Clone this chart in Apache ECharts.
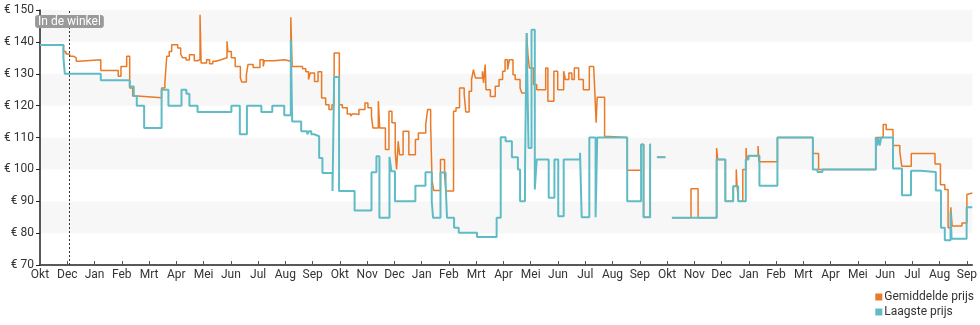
<!DOCTYPE html>
<html>
<head>
<meta charset="utf-8">
<script src="https://cdn.jsdelivr.net/npm/echarts@6/dist/echarts.min.js"></script>
<style>
  html, body { margin: 0; padding: 0; background: #ffffff; }
  #chart { width: 980px; height: 325px; }
</style>
</head>
<body>
<div id="chart"></div>
<script>
// Month tick labels (one per month boundary, starting at the left edge)
const monthLabels = ['Okt','Dec','Jan','Feb','Mrt','Apr','Mei','Jun','Jul','Aug','Sep',
  'Okt','Nov','Dec','Jan','Feb','Mrt','Apr','Mei','Jun','Jul','Aug','Sep',
  'Okt','Nov','Dec','Jan','Feb','Mrt','Apr','Mei','Jun','Jul','Aug','Sep'];

// Price axis ticks
const priceTicks = [70, 80, 90, 100, 110, 120, 130, 140, 150];

// Moment the product became available in shops (months since start)
const inStoreMonth = 1.08;

// Average price: [months since start, price in euro]; each point starts a new price level
const averagePrice = [
  [0,139],[0.86,137],[0.95,136.2],[1.09,135.5],[1.23,135],[1.33,133.9],[1.42,134.4],
  [2.23,131],[2.87,129.2],[2.97,132.3],[3.18,135.5],[3.29,125.5],[3.40,123],[3.58,122.5],
  [4.46,125.5],[4.58,127.1],[4.65,135.5],[4.74,137],[4.83,139.1],[5.05,138.1],[5.16,136.2],
  [5.23,135],[5.36,134.3],[5.48,136],[5.66,134.1],[5.78,134.4],[5.87,148.5],[5.91,133.4],
  [6.11,134.4],[6.22,133.1],[6.34,133.9],[6.45,134.4],[6.64,135],[6.86,140.2],[6.89,137],
  [7.02,135],[7.16,132.3],[7.35,128.7],[7.40,127.4],[7.57,129.7],[7.63,132.9],[7.82,132],
  [8.07,134.4],[8.19,132.3],[8.23,134.1],[8.59,134.4],[8.96,133.9],[9.20,147.7],[9.25,132.3],
  [9.63,131.6],[9.75,130.6],[9.85,128.2],[9.91,130.2],[10.07,127.6],[10.20,130.6],[10.33,122.4],
  [10.48,120.3],[10.60,118.8],[10.71,120.3],[10.79,136.5],[10.98,120.3],[11.09,119.3],[11.27,117.4],
  [11.40,116.7],[11.46,117.4],[11.58,117.2],[11.70,118.8],[11.92,120.8],[12.03,119.3],[12.16,116.7],
  [12.21,113],[12.41,121.4],[12.46,113],[12.67,106.2],[12.80,118.2],[12.91,114.6],[13.03,105.2],
  [13.08,100],[13.14,108.8],[13.19,104.6],[13.32,112],[13.53,104.6],[13.77,109.4],[13.88,111.4],
  [14.15,114.1],[14.22,118.8],[14.33,114.1],[14.38,96.8],[14.44,93.4],[14.69,103.1],[14.84,98.4],
  [14.89,93.2],[15.17,118.2],[15.26,119.3],[15.39,125.5],[15.56,123.5],[15.62,118],[15.74,124.5],
  [15.83,128.2],[15.90,131.3],[15.97,128.7],[16.23,130.8],[16.27,127.1],[16.33,132.9],[16.36,125],
  [16.52,122.9],[16.70,126.1],[16.84,128.2],[16.97,130.8],[17.06,134.4],[17.15,131.3],[17.22,134.4],
  [17.35,129.7],[17.43,128.2],[17.61,125.5],[17.67,124],[17.85,142.8],[17.90,136],[17.95,131.8],
  [18.10,126.6],[18.22,125],[18.55,131.8],[18.63,121.4],[18.85,130.8],[18.99,125],[19.21,130.8],
  [19.27,128.2],[19.40,130.2],[19.51,128.2],[19.60,131.8],[19.76,128.2],[19.93,125],[20.15,132.3],
  [20.31,131.8],[20.35,124.7],[20.40,114.6],[20.44,122.6],[20.71,110.4],[20.74,110],[21.54,99.7],
  [22.05,107.8],[22.14,85],[22.38,107.8],[22.41,null],
  [22.63,103.8],[22.94,103.8],[22.95,null],
  [23.18,84.8],[23.88,93.9],[24.14,84.8],[24.82,106.7],[24.86,103.1],[25.14,90],[25.43,94.7],
  [25.54,100],[25.57,94.7],[25.62,90],[25.78,100],[25.90,106.7],[25.92,103.1],[25.99,104.3],
  [26.34,107.3],[26.37,102.4],[27.05,110],[28.35,105],[28.56,100],[30.66,110],[30.93,114.1],
  [31.04,112.5],[31.29,107.5],[31.54,105.5],[31.61,101],[31.96,105],[32.83,101.7],[33.03,95.2],
  [33.19,93.7],[33.31,81.7],[33.41,88.1],[33.46,82.2],[33.82,83.2],[34.00,92.1],[34.04,92.6],
  [34.2,92.6]
];

// Lowest price: [months since start, price in euro]
const lowestPrice = [
  [0,139],[0.86,135],[0.91,130],[2.23,128],[3.29,126],[3.44,123],[3.55,120],[3.82,113],
  [4.46,125],[4.71,120],[5.19,125],[5.37,123.7],[5.48,120],[5.78,118],[7.02,120],[7.33,111],
  [7.59,120],[8.12,118],[8.52,120],[8.96,117],[9.20,140.7],[9.25,115],[9.58,112],[9.80,111],
  [9.87,112],[9.95,111],[10.05,110.4],[10.24,103.6],[10.36,98.9],[10.73,93.2],[10.79,129],
  [10.97,93.2],[11.54,87.1],[12.16,99.1],[12.34,104.1],[12.45,84.8],[12.82,103.9],[12.89,99.4],
  [13.02,90],[13.77,94.9],[14.14,99.1],[14.37,90],[14.42,84.8],[14.69,99],[14.88,95.2],
  [14.93,84.8],[15.19,81.7],[15.36,80.1],[16.03,78.8],[16.75,84.8],[16.90,110.1],[17.08,108.8],
  [17.31,103.8],[17.53,100],[17.61,90],[17.79,99.4],[17.85,142.8],[17.92,106.7],[18.03,143.8],
  [18.15,93.7],[18.22,103.1],[18.66,91.1],[18.87,103.1],[19.01,85.3],[19.21,103.1],[19.81,105.2],
  [19.87,85],[20.15,110],[20.38,85],[20.44,110],[21.54,90],[22.05,107.8],[22.14,85],[22.38,107.8],
  [22.41,null],
  [22.63,103.8],[22.94,103.8],[22.95,null],
  [23.18,84.8],[24.82,103.1],[25.14,90],[25.43,94.7],[25.61,90],[25.89,103.1],[25.99,104.3],
  [26.39,94.9],[27.05,110],[28.35,100],[28.52,99.2],[28.70,100],[30.66,110],[30.70,107.5],
  [30.75,110],[30.80,107.5],[30.86,110],[31.29,100.3],[31.62,91.9],[31.95,99.6],[32.30,99.2],
  [32.86,93.4],[33.05,81.7],[33.19,77.8],[33.40,86.9],[33.44,78.2],[33.99,88.1],[34.2,88.1]
];

const chart = echarts.init(document.getElementById('chart'), null, { renderer: 'canvas' });
const font = 'Roboto, "Noto Sans", sans-serif';
const monthTicks = monthLabels.map((_, i) => i);

chart.setOption({
  animation: false,
  textStyle: { fontFamily: font },
  grid: { left: 40, right: 5, top: 10, bottom: 60 },
  legend: {
    orient: 'vertical',
    right: 6,
    top: 290,
    padding: 0,
    icon: 'rect',
    itemWidth: 7,
    itemHeight: 7,
    itemGap: 1,
    textStyle: { fontFamily: font, fontSize: 12, color: '#333', padding: [0, 0, 0, -3], lineHeight: 14 },
    data: ['Gemiddelde prijs', 'Laagste prijs']
  },
  xAxis: {
    type: 'value',
    min: 0,
    max: 34.2,
    interval: 1,
    axisLine: { show: true, lineStyle: { color: '#222', width: 1.5 } },
    axisTick: { show: true, inside: true, length: 4, customValues: monthTicks, lineStyle: { color: '#555' } },
    axisLabel: {
      customValues: monthTicks,
      margin: 4,
      fontSize: 12,
      color: '#333',
      fontFamily: font,
      formatter: v => monthLabels[Math.round(v)] || ''
    },
    splitLine: { show: false }
  },
  yAxis: {
    type: 'value',
    min: priceTicks[0],
    max: priceTicks[priceTicks.length - 1],
    interval: 10,
    axisLine: { show: true, lineStyle: { color: '#222', width: 1.5 } },
    axisTick: { show: true, length: 4, lineStyle: { color: '#222' } },
    axisLabel: { margin: 6, fontSize: 12, color: '#333', fontFamily: font, formatter: v => '€ ' + v },
    splitLine: { show: false },
    splitArea: { show: true, areaStyle: { color: ['#ffffff', '#f7f7f7'] } }
  },
  series: [
    {
      name: 'Gemiddelde prijs',
      type: 'line',
      step: 'end',
      symbol: 'none',
      data: averagePrice,
      itemStyle: { color: '#ea7a26' },
      lineStyle: { color: '#ea7a26', width: 1.5 },
      markLine: {
        silent: true,
        symbol: ['none', 'none'],
        label: { show: false },
        lineStyle: { color: '#333', type: [2, 2], width: 1 },
        data: [{ xAxis: inStoreMonth }]
      },
      markPoint: {
        silent: true,
        symbol: 'rect',
        symbolSize: 0,
        data: [{ coord: [inStoreMonth, 150] }],
        label: {
          show: true,
          position: 'bottom',
          distance: 5,
          formatter: 'In de winkel',
          color: '#ffffff',
          fontSize: 12,
          fontFamily: font,
          backgroundColor: '#9a9a9a',
          borderRadius: 3,
          padding: [0, 3, 0, 3],
          lineHeight: 13
        }
      }
    },
    {
      name: 'Laagste prijs',
      type: 'line',
      step: 'end',
      symbol: 'none',
      data: lowestPrice,
      itemStyle: { color: '#5fbcc6' },
      lineStyle: { color: '#5fbcc6', width: 2 }
    }
  ]
});
</script>
</body>
</html>
